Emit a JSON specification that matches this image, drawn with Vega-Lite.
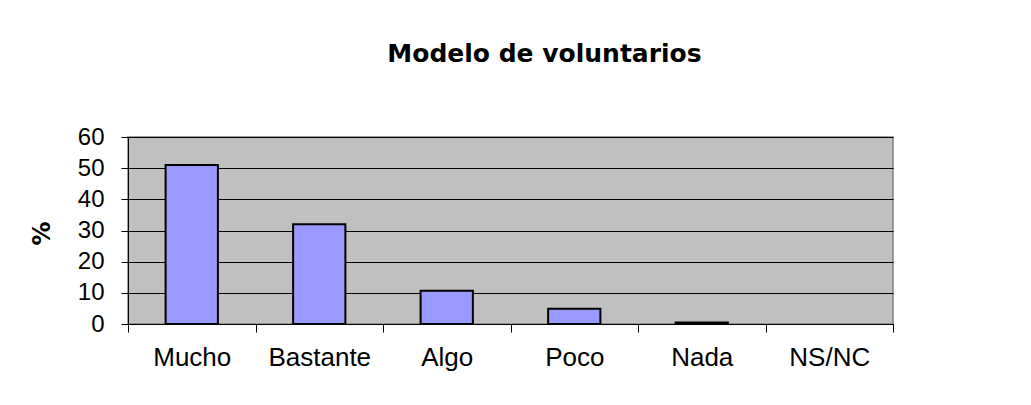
{
  "$schema": "https://vega.github.io/schema/vega-lite/v6.json",
  "width": 765,
  "height": 187,
  "autosize": {"type": "none"},
  "padding": {"left": 128, "top": 137, "right": 138, "bottom": 81},
  "background": "white",
  "title": {
    "text": "Modelo de voluntarios",
    "font": "DejaVu Sans",
    "fontWeight": "bold",
    "fontSize": 25,
    "color": "black",
    "anchor": "middle",
    "frame": "group",
    "dx": 34,
    "offset": 58
  },
  "data": {
    "values": [
      {"cat": "Mucho", "pct": 51.0},
      {"cat": "Bastante", "pct": 32.0},
      {"cat": "Algo", "pct": 10.7},
      {"cat": "Poco", "pct": 4.9},
      {"cat": "Nada", "pct": 0.5},
      {"cat": "NS/NC", "pct": 0}
    ]
  },
  "mark": {"type": "bar", "fill": "#9999FF", "stroke": "black", "strokeWidth": 2, "width": {"band": 0.41}},
  "encoding": {
    "x": {
      "field": "cat",
      "type": "nominal",
      "sort": null,
      "scale": {"domain": ["Mucho", "Bastante", "Algo", "Poco", "Nada", "NS/NC"], "paddingInner": 0, "paddingOuter": 0},
      "axis": {
        "title": null,
        "labelAngle": 0,
        "labelFont": "Liberation Sans",
        "labelFontSize": 26,
        "labelColor": "black",
        "labelPadding": 12,
        "tickBand": "extent",
        "tickSize": 8,
        "tickColor": "black",
        "domainColor": "black",
        "domainWidth": 1,
        "grid": false
      }
    },
    "y": {
      "field": "pct",
      "type": "quantitative",
      "scale": {"domain": [0, 60], "nice": false},
      "axis": {
        "title": "%",
        "titleFont": "DejaVu Sans",
        "titleFontWeight": "bold",
        "titleFontSize": 24,
        "titleColor": "black",
        "titleX": -86,
        "titleY": 96,
        "titleAngle": -90,
        "titleBaseline": "middle",
        "titleAlign": "center",
        "values": [0, 10, 20, 30, 40, 50, 60],
        "labelFont": "Liberation Sans",
        "labelFontSize": 24,
        "labelColor": "black",
        "labelPadding": 17,
        "tickSize": 7,
        "tickColor": "black",
        "domainColor": "black",
        "grid": true,
        "gridColor": "black",
        "gridWidth": 1,
        "gridOpacity": 1
      }
    },
    "strokeOpacity": {"condition": {"test": "datum.pct > 0", "value": 1}, "value": 0}
  },
  "config": {
    "view": {"fill": "#C0C0C0", "stroke": "#808080", "strokeWidth": 1.5}
  }
}
